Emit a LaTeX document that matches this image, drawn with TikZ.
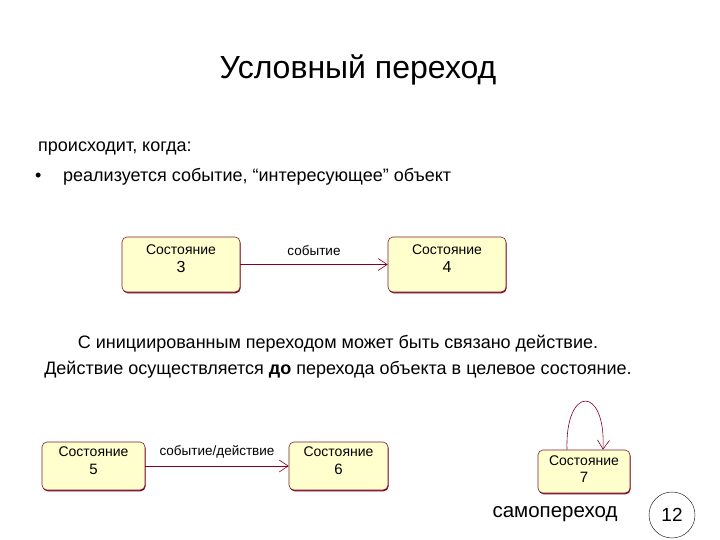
\documentclass[tikz,border=0pt]{standalone}
\usepackage{fontspec}
\setmainfont{Liberation Sans}
\usetikzlibrary{arrows.meta, shadows}
\definecolor{statefill}{RGB}{255,255,206}
\definecolor{stateline}{RGB}{128,0,32}
\begin{document}
\begin{tikzpicture}[x=1pt, y=-1pt,
	state/.style={rectangle, rounded corners=5pt, draw=stateline!80!gray, fill=statefill, semithick, inner sep=0pt,
		drop shadow={shadow xshift=0.6pt, shadow yshift=-1.3pt, fill=stateline, opacity=1}},
	stext/.style={align=center, inner sep=0pt, font=\fontsize{14}{16}\selectfont},
	num/.style={font=\fontsize{16}{18}\selectfont},
	trans/.style={draw=stateline, semithick, -{Straight Barb[length=9pt, width=12pt]}},
	txt/.style={anchor=base west, inner sep=0pt, font=\fontsize{18}{21}\selectfont},
	lbl/.style={inner sep=0pt, font=\fontsize{13.5}{16}\selectfont}]

	\useasboundingbox (0,0) rectangle (720,540);

	\node[font=\fontsize{32}{36}\selectfont] (title) at (358,70) {Условный переход};
	\node[txt] (when) at (38,152) {происходит, когда:};
	\node[txt] (bullet) at (35,182) {•};
	\node[txt] (item) at (63,182) {реализуется событие, “интересующее” объект};

	\node[state, minimum width=118pt, minimum height=55pt] (s3) at (181,264.5) {};
	\node[stext] (t3) at ([yshift=6pt]s3.center) {Состояние\\[2pt]{\fontsize{16}{18}\selectfont 3}};
	\node[state, minimum width=118pt, minimum height=55pt] (s4) at (447,264.5) {};
	\node[stext] (t4) at ([yshift=6pt]s4.center) {Состояние\\[2pt]{\fontsize{16}{18}\selectfont 4}};
	\draw[trans] (s3) -- node[lbl, above=9pt] (ev) {событие} (s4);

	\node[anchor=base, inner sep=0pt, font=\fontsize{18}{21}\selectfont] (act1) at (338,348) {С инициированным переходом может быть связано действие.};
	\node[anchor=base, inner sep=0pt, font=\fontsize{18}{21}\selectfont] (act2) at (338,374) {Действие осуществляется \textbf{до} перехода объекта в целевое состояние.};

	\node[state, minimum width=103pt, minimum height=48pt] (s5) at (93.5,466) {};
	\node[stext] (t5) at ([yshift=5pt]s5.center) {Состояние\\[2pt]{\fontsize{15}{17}\selectfont 5}};
	\node[state, minimum width=99pt, minimum height=48pt] (s6) at (338.5,466) {};
	\node[stext] (t6) at ([yshift=5pt]s6.center) {Состояние\\[2pt]{\fontsize{15}{17}\selectfont 6}};
	\draw[trans] (s5) -- node[lbl, above=8pt] (evact) {событие/действие} (s6);

	\node[state, minimum width=92pt, minimum height=43pt] (s7) at (584,471.5) {};
	\node[stext] (t7) at ([yshift=2pt]s7.center) {Состояние\\[1pt]{\fontsize{15}{17}\selectfont 7}};
	\draw[trans] ([xshift=-17pt]s7.north) .. controls (565,385) and (606,385) .. ([xshift=19pt]s7.north);

	\node[font=\fontsize{20.5}{24}\selectfont] (self) at (555,514) {самопереход};
	\node[circle, draw, minimum size=46pt, inner sep=0pt, font=\fontsize{19}{21}\selectfont] (page) at (672,515) {12};
\end{tikzpicture}
\end{document}
